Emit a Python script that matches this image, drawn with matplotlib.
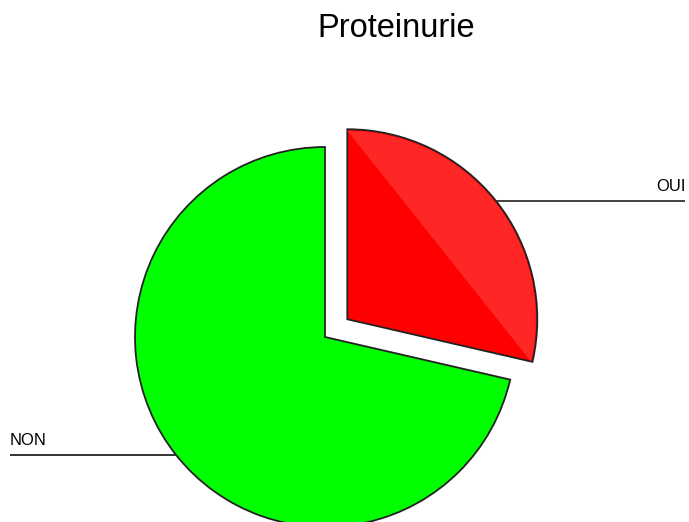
import numpy as np
import matplotlib
matplotlib.use("Agg")
import matplotlib.pyplot as plt
from matplotlib.patches import Polygon

title = "Proteinurie"
labels = ["OUI", "NON"]
values = [28.6, 71.4]
colors = ["#FF0000", "#00FF00"]
explode = [0.15, 0.0]   # fraction of radius

W, H = 689, 522
fig = plt.figure(figsize=(W / 100, H / 100), dpi=100)
ax = fig.add_axes([0, 0, 1, 1])

cx, cy, R = 325, H - 337, 190
wedges, _ = ax.pie(values, colors=colors, explode=[e * R for e in explode],
                   startangle=90, counterclock=False, center=(cx, cy), radius=R,
                   wedgeprops=dict(edgecolor="#222222", linewidth=1.3),
                   frame=True)
ax.set_xlim(0, W)
ax.set_ylim(0, H)
ax.set_aspect("equal")
ax.axis("off")

# subtle lighter shading on the red slice between chord and arc
w0 = wedges[0]
t = np.deg2rad(np.linspace(w0.theta1, w0.theta2, 100))
wx, wy = w0.center
seg = np.column_stack([wx + (w0.r - 1.5) * np.cos(t), wy + (w0.r - 1.5) * np.sin(t)])
ax.add_patch(Polygon(seg, closed=True, facecolor="#FF2626", edgecolor="none",
                     zorder=w0.get_zorder() + 0.1))

for w, lab in zip(wedges, labels):
    mid = np.deg2rad((w.theta1 + w.theta2) / 2)
    wx, wy = w.center
    px = wx + w.r * np.cos(mid)
    py = wy + w.r * np.sin(mid)
    if np.cos(mid) >= 0:
        ax.plot([px, 685], [py, py], color="#333333", lw=1.3, solid_capstyle="butt")
        ax.text(686, py + 10, lab, ha="right", va="baseline", fontsize=12,
                family="Liberation Sans")
    else:
        ax.plot([10, px], [py, py], color="#222222", lw=1.3, solid_capstyle="butt")
        ax.text(10, py + 10, lab, ha="left", va="baseline", fontsize=12,
                family="Liberation Sans")

fig.text(396.5 / W, 1 - 37 / H, title, ha="center", va="baseline",
         fontsize=23.5, family="Liberation Sans")

fig.savefig("out.png", dpi=100)
